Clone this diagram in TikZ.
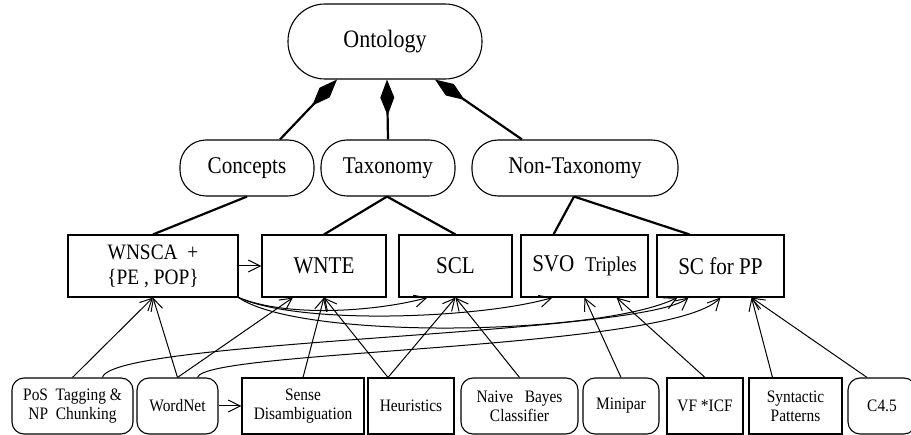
\documentclass[tikz,border=0pt]{standalone}
\usepackage{fontspec}
\setmainfont[FakeStretch=0.88]{Liberation Serif}
\usetikzlibrary{arrows.meta}
\tikzstyle{whole} = [rectangle, rounded corners=37pt, draw=black, line width=1.1pt, inner sep=0pt, minimum width=194pt, minimum height=75pt, font=\fontsize{25}{28}\selectfont]
\tikzstyle{part} = [rectangle, rounded corners=26pt, draw=black, line width=1.1pt, inner sep=0pt, minimum height=56pt, font=\fontsize{24}{27}\selectfont]
\tikzstyle{block} = [rectangle, draw=black, line width=1.1pt, inner sep=0pt, align=center, minimum height=62pt, font=\fontsize{24}{25}\selectfont]
\tikzstyle{toolrect} = [rectangle, draw=black, line width=1.1pt, inner sep=0pt, align=center, minimum height=56pt, font=\fontsize{17.5}{19}\selectfont]
\tikzstyle{toolround} = [toolrect, rounded corners=12pt]
\tikzstyle{link} = [line width=2.2pt]
\tikzstyle{has} = [line width=2.2pt, {Diamond[length=36pt,width=14pt]}-]
\tikzstyle{arrow} = [line width=1pt, -{Straight Barb[length=12pt,width=12pt]}]

\begin{document}
\begin{tikzpicture}[x=1pt, y=-1pt]
\useasboundingbox (0,0) rectangle (911,435);
% top
\node (onto) [whole] at (385,41.5) {Ontology};
\node (concepts) [part, minimum width=134pt] at (247,168) {Concepts};
\node (taxo) [part, minimum width=134pt] at (388,168) {Taxonomy};
\node (nontaxo) [part, minimum width=206pt] at (575,168) {Non-Taxonomy};
% tasks
\node (wnsca) [block, minimum width=170pt] at (153,266) {\fontsize{22}{25}\selectfont WNSCA~~+\\\fontsize{22}{25}\selectfont\{PE , POP\}};
\node (wnte) [block, minimum width=124pt] at (324,266) {WNTE};
\node (scl) [block, minimum width=113pt] at (455.5,266) {SCL};
\node (svo) [block, minimum width=127pt] at (584.5,266) {SVO~~{\fontsize{21}{22}\selectfont Triples}};
\node (scpp) [block, minimum width=127pt] at (720.5,266) {SC for PP};
% tools
\node (pos) [toolround, minimum width=121pt] at (72.5,406) {PoS~~Tagging \&\\NP~~Chunking};
\node (wordnet) [toolround, minimum width=81pt] at (177.5,406) {WordNet};
\node (sense) [toolrect, minimum width=122pt] at (303,406) {Sense\\Disambiguation};
\node (heur) [toolrect, minimum width=86pt] at (411,406) {Heuristics};
\node (bayes) [toolround, minimum width=117pt] at (519.5,406) {Naive~~~Bayes\\Classifier};
\node (minipar) [toolround, minimum width=76pt] at (621,406) {Minipar};
\node (vficf) [toolrect, minimum width=76pt] at (705,406) {VF *ICF};
\node (synt) [toolrect, minimum width=93pt] at (795.5,406) {Syntactic\\Patterns};
\node (cfour) [toolround, minimum width=68pt] at (882,406) {C4.5};

\draw [has] ([xshift=-48pt]onto.south) -- ([xshift=33pt]concepts.north);
\draw [has] ([xshift=2pt]onto.south) -- (taxo.north);
\draw [has] ([xshift=50pt]onto.south) -- ([xshift=-53pt]nontaxo.north);
\draw [link] (concepts.south) -- (wnsca.north);
\draw [link] ([xshift=-1pt]taxo.south) -- (wnte.north);
\draw [link] ([xshift=-1pt]taxo.south) -- (scl.north);
\draw [link] ([xshift=-1pt]nontaxo.south) -- ([xshift=-31pt]svo.north);
\draw [link] ([xshift=-1pt]nontaxo.south) -- ([xshift=-31pt]scpp.north);

\draw [arrow] (wnsca.east) -- (wnte.west);
\draw [arrow] (wnsca.south east) .. controls +(52,21) and +(-47,13) .. ([xshift=-28pt]scl.south);
\draw [arrow] (wnsca.south east) .. controls +(62,28) and +(-72,21) .. ([xshift=-32pt]svo.south);
\draw [arrow] (wnsca.south east) .. controls +(62,43) and +(-77,38) .. ([xshift=-43pt]scpp.south);
\draw [arrow] ([xshift=30pt]pos.north) .. controls +(9,-38) and +(-48,38) .. ([xshift=-32pt]scpp.south);
\draw [arrow] ([xshift=20pt]wordnet.north) .. controls +(7,-28) and +(-50,53) .. (scpp.south);

\draw [arrow] (pos.north) -- (wnsca.south);
\draw [arrow] (wordnet.north) -- (wnsca.south);
\draw [arrow] (wordnet.north) -- ([xshift=-31pt]wnte.south);
\draw [arrow] (wordnet.east) -- (sense.west);
\draw [arrow] (sense.north) -- (wnte.south);
\draw [arrow] ([xshift=-23pt]heur.north) -- (wnte.south);
\draw [arrow] ([xshift=-23pt]heur.north) -- (scl.south);
\draw [arrow] (bayes.north) -- (scl.south);
\draw [arrow] (minipar.north) -- (svo.south);
\draw [arrow] (vficf.north) -- ([xshift=32pt]svo.south);
\draw [arrow] ([xshift=-23pt]synt.north) -- ([xshift=31pt]scpp.south);
\draw [arrow] ([xshift=-15pt]cfour.north) -- ([xshift=31pt]scpp.south);
\end{tikzpicture}
\end{document}
